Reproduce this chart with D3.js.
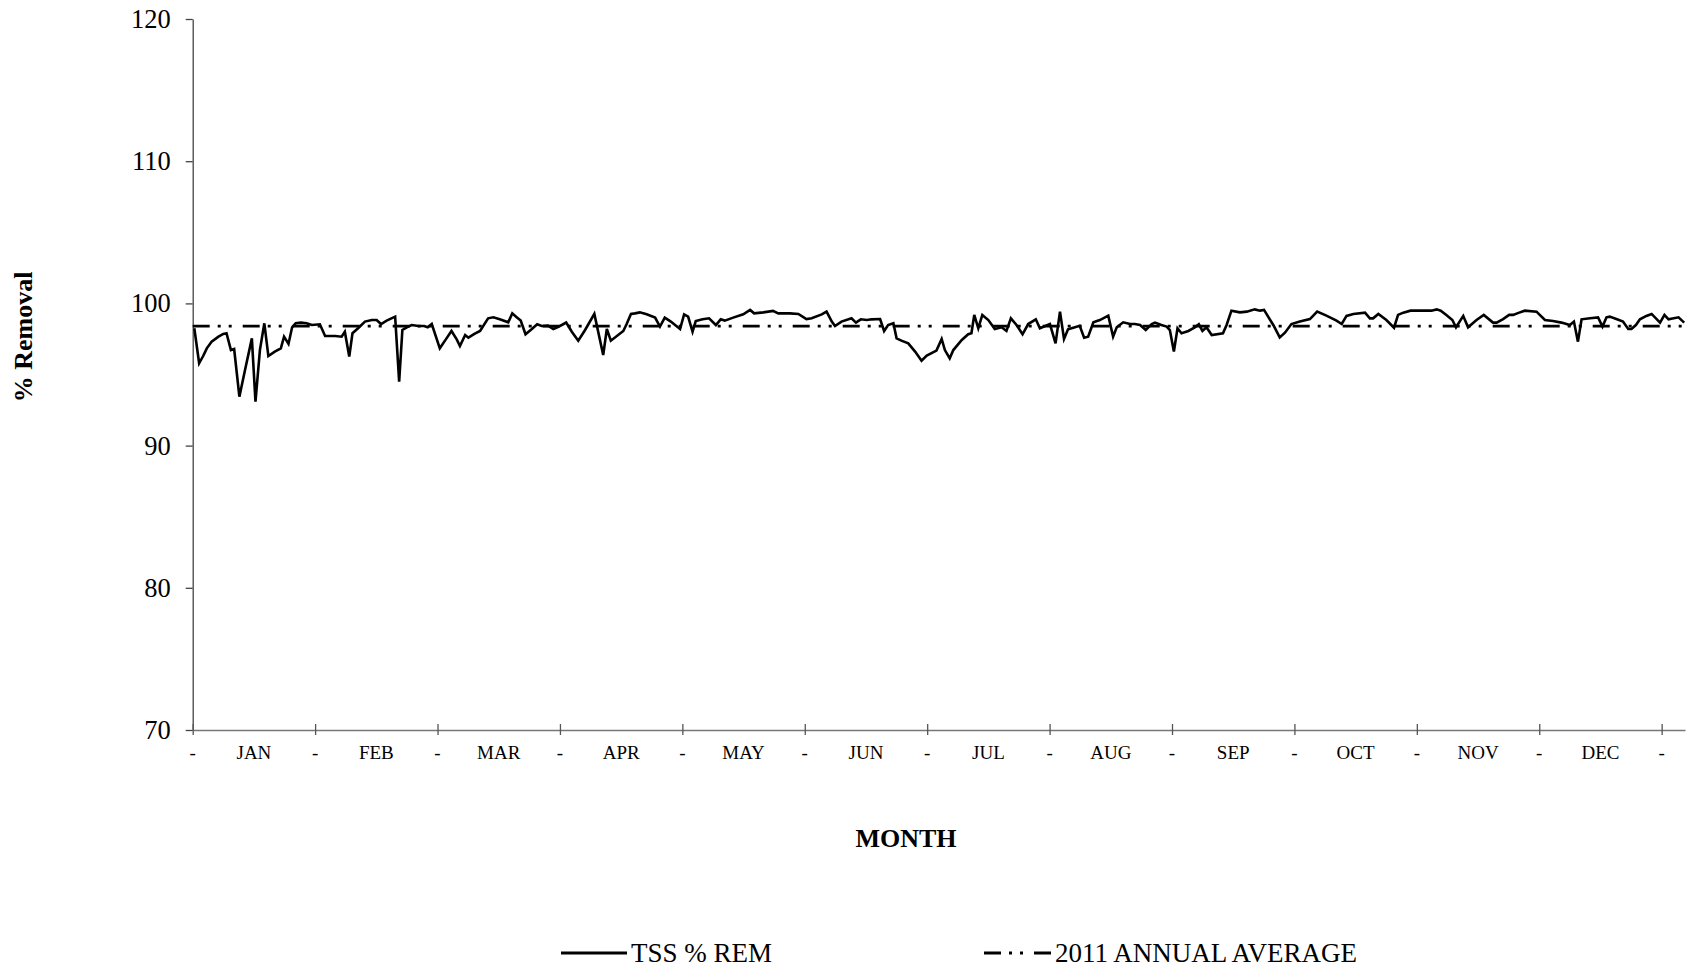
<!DOCTYPE html>
<html>
<head>
<meta charset="utf-8">
<script src="https://cdn.jsdelivr.net/npm/d3@7"></script>
<style>
  html, body { margin: 0; padding: 0; background: #fff; }
  svg { display: block; }
  text { font-family: "Liberation Serif", "Times New Roman", serif; fill: #000; }
</style>
</head>
<body>
<svg id="chart" width="1688" height="968"></svg>
<script>
// ---- data ----
const months = ["JAN","FEB","MAR","APR","MAY","JUN","JUL","AUG","SEP","OCT","NOV","DEC"];
const yTicks = [70, 80, 90, 100, 110, 120];
const annualAverage = 98.4;
const seriesName = "TSS % REM";
const averageName = "2011 ANNUAL AVERAGE";
const day = [
  0.4,1.6,2.6,3.5,4.7,6.4,7.6,8.4,9.5,10.3,11.6,13.0,14.7,15.6,16.7,17.8,18.8,20.4,21.9,22.7,23.8,24.7,25.6,26.9,28.3,29.6,31.6,32.9,35.4,37.0,37.8,38.9,39.7,41.1,42.8,44.5,45.7,46.8,48.2,50.3,51.3,52.1,53.2,54.4,56.1,57.5,58.4,59.4,61.4,62.9,64.3,65.6,66.4,67.7,68.5,70.0,71.4,
  73.4,74.7,76.3,78.4,79.4,80.5,81.5,82.7,84.2,85.6,86.7,88.3,89.6,90.6,91.7,92.8,94.2,95.8,97.5,99.8,102.0,102.9,103.9,107.0,107.8,108.9,109.9,111.1,112.8,114.9,116.1,117.3,118.8,121.1,122.1,123.1,124.2,125.0,126.7,128.3,130.0,131.2,132.2,134.3,136.8,138.5,139.5,141.8,144.2,145.5,148.4,
  150.5,152.5,153.8,156.3,157.5,158.8,159.6,161.2,163.7,164.8,166.0,167.5,168.7,170.8,171.8,172.8,174.1,174.9,176.1,177.8,179.5,181.1,182.4,184.8,186.1,186.9,188.1,189.0,191.1,192.7,193.5,194.2,195.2,196.2,197.7,199.3,201.0,202.2,203.3,204.7,206.2,207.6,209.5,210.5,213.0,214.4,215.5,216.5,217.5,218.8,
  220.4,221.5,222.5,223.8,225.4,227.5,228.7,229.6,231.2,232.9,234.1,235.4,236.8,238.3,239.1,240.7,242.0,242.8,243.8,244.7,245.7,247.4,249.0,250.0,250.9,251.9,253.2,256.0,256.9,258.1,260.2,261.9,263.9,265.2,266.2,268.5,270.1,271.4,273.0,275.1,277.6,279.4,281.7,284.2,285.5,286.7,288.4,291.3,292.5,293.3,294.6,
  296.6,298.5,299.5,300.8,302.6,305.7,307.8,309.1,310.1,311.5,313.0,313.9,315.7,316.9,319.0,320.8,323.1,324.0,325.6,327.1,328.1,329.6,331.0,333.9,336.0,338.0,340.1,342.2,343.2,344.2,345.1,347.2,349.2,350.3,351.3,352.1,353.9,355.4,356.7,357.5,358.6,359.6,361.2,362.5,364.6,365.7,366.7,369.2,370.6
];
const removal = [
  98.25,95.79,96.30,96.84,97.31,97.66,97.85,97.90,96.72,96.79,93.44,95.32,97.54,93.09,96.72,98.60,96.30,96.61,96.84,97.66,97.15,98.32,98.60,98.65,98.60,98.48,98.53,97.71,97.71,97.66,98.01,96.26,97.90,98.25,98.72,98.83,98.83,98.55,98.79,99.07,94.50,98.13,98.32,98.48,98.41,98.41,98.32,98.55,96.84,97.47,98.06,97.47,97.00,97.78,97.59,97.85,98.06,
  98.95,99.02,98.88,98.67,99.30,99.02,98.79,97.83,98.18,98.53,98.41,98.44,98.20,98.32,98.48,98.65,98.01,97.38,98.13,99.26,96.37,98.20,97.38,98.06,98.53,99.26,99.30,99.37,99.23,99.00,98.37,99.00,98.72,98.20,99.23,99.07,98.01,98.76,98.88,98.95,98.48,98.88,98.79,99.00,99.23,99.54,99.30,99.37,99.47,99.30,99.30,
  99.26,98.90,98.95,99.23,99.42,98.72,98.41,98.72,98.95,98.65,98.88,98.83,98.88,98.90,98.06,98.48,98.60,97.54,97.38,97.19,96.61,95.97,96.33,96.68,97.50,96.72,96.14,96.72,97.43,97.83,97.90,99.19,98.25,99.19,98.83,98.20,98.32,98.06,98.95,98.48,97.83,98.55,98.88,98.25,98.55,97.19,99.42,97.50,98.18,98.29,
  98.42,97.59,97.66,98.67,98.83,99.14,97.66,98.32,98.67,98.55,98.55,98.48,98.13,98.55,98.65,98.48,98.37,98.13,96.61,98.25,97.90,98.06,98.32,98.53,98.06,98.32,97.78,97.90,98.48,99.49,99.37,99.42,99.58,99.49,99.54,98.48,97.61,97.94,98.55,98.72,98.90,99.42,99.14,98.79,98.55,99.12,99.26,99.35,98.95,98.95,99.26,
  98.83,98.29,99.19,99.35,99.49,99.49,99.49,99.58,99.49,99.19,98.83,98.32,99.12,98.32,98.83,99.19,98.65,98.65,98.90,99.19,99.19,99.35,99.49,99.42,98.83,98.76,98.65,98.48,98.72,97.31,98.88,98.95,99.02,98.37,99.02,99.07,98.88,98.72,98.20,98.20,98.48,98.88,99.12,99.26,98.65,99.19,98.88,99.02,98.65
];
const daysInYear = 365;
const axisEndDay = 370.8;

// ---- layout ----
const svg = d3.select("#chart");
const plotLeft = 192.7, plotRight = 1685, plotTop = 19, plotBottom = 730;
const x = d3.scaleLinear().domain([0, axisEndDay]).range([plotLeft, plotRight]);
const y = d3.scaleLinear().domain([70, 120]).range([plotBottom, plotTop]);
const monthLen = daysInYear / months.length;
const tickDays = d3.range(months.length + 1).map(i => i * monthLen);

// y axis
const yAxis = svg.append("g").attr("transform", `translate(${plotLeft},0)`)
  .call(d3.axisLeft(y).tickValues(yTicks).tickSize(7).tickSizeOuter(0).tickPadding(15).tickFormat(d3.format("d")));
yAxis.select(".domain").attr("stroke", "#444").attr("stroke-width", 1.3);
yAxis.selectAll(".tick line").attr("stroke", "#444").attr("stroke-width", 1.3);
yAxis.selectAll(".tick text").style("font-size", "26.5px").style("font-family", "'Liberation Serif', serif").attr("fill", "#000");

// x axis
const xAxis = svg.append("g").attr("transform", `translate(0,${plotBottom})`)
  .call(d3.axisBottom(x).tickValues(tickDays).tickSize(5).tickSizeOuter(0).tickFormat(""));
xAxis.select(".domain").attr("stroke", "#777").attr("stroke-width", 1.3);
xAxis.selectAll(".tick line").attr("y1", -6).attr("y2", 5).attr("stroke", "#555").attr("stroke-width", 1.3);

// x labels: "-" at ticks, month names between
svg.append("g").selectAll("text").data(tickDays).join("text")
  .attr("x", d => x(d)).attr("y", 759).attr("text-anchor", "middle")
  .style("font-size", "19px").text("-");
svg.append("g").selectAll("text").data(months).join("text")
  .attr("x", (d, i) => x((i + 0.5) * monthLen)).attr("y", 759).attr("text-anchor", "middle")
  .style("font-size", "19px").text(d => d);

// axis titles
svg.append("text").attr("x", 906).attr("y", 847).attr("text-anchor", "middle")
  .style("font-size", "26px").style("font-weight", "bold").text("MONTH");
svg.append("text").attr("transform", `translate(32,337) rotate(-90)`)
  .attr("text-anchor", "middle").style("font-size", "26px").style("font-weight", "bold").text("% Removal");

// average line
const avgDash = "17,8,3,8,3,11";
svg.append("line").attr("x1", x(0)).attr("x2", x(axisEndDay))
  .attr("y1", y(annualAverage)).attr("y2", y(annualAverage))
  .attr("stroke", "#000").attr("stroke-width", 2.8).attr("stroke-dasharray", avgDash);

// series line
const pts = day.map((d, i) => [d, removal[i]]);
svg.append("path").datum(pts)
  .attr("fill", "none").attr("stroke", "#000").attr("stroke-width", 2.6).attr("stroke-linejoin", "miter")
  .attr("d", d3.line().x(d => x(d[0])).y(d => y(d[1])));

// legend
const ly = 953;
svg.append("line").attr("x1", 561).attr("x2", 627).attr("y1", ly).attr("y2", ly)
  .attr("stroke", "#000").attr("stroke-width", 2.8);
svg.append("text").attr("x", 631).attr("y", ly + 9).style("font-size", "27px").text(seriesName);
svg.append("line").attr("x1", 984).attr("x2", 1051).attr("y1", ly).attr("y2", ly)
  .attr("stroke", "#000").attr("stroke-width", 2.8).attr("stroke-dasharray", avgDash);
svg.append("text").attr("x", 1055).attr("y", ly + 9).style("font-size", "27px").text(averageName);
</script>
</body>
</html>
